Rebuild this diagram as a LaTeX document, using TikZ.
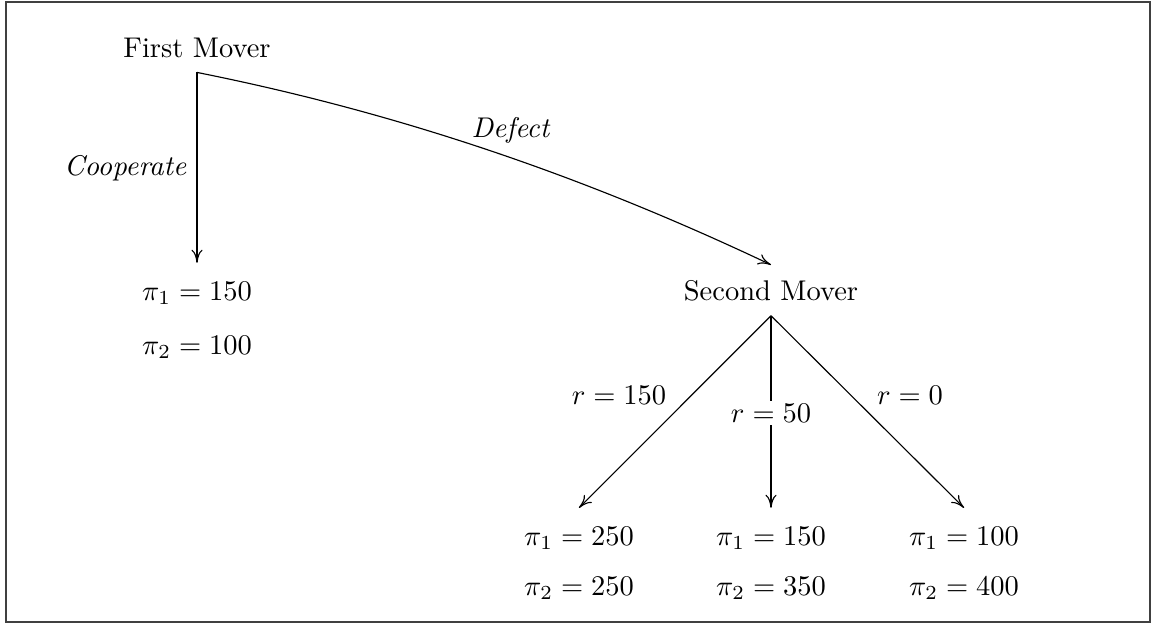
\documentclass[tikz,border=0pt]{standalone}
\usetikzlibrary{arrows.meta}
\begin{document}
\begin{tikzpicture}[x=0.3509pt,y=-0.3509pt,
  player/.style={inner xsep=0pt, inner ysep=5.1pt, anchor=base},
  payoff/.style={inner xsep=0pt, inner ysep=6.4pt, anchor=base},
  plain/.style={inner sep=0pt, anchor=base},
  move/.style={-{Computer Modern Rightarrow[length=4.6pt, width=3.9pt]}, line width=0.4pt}]
\useasboundingbox (0,0) rectangle (1152,624);
\draw[line width=0.45pt, black!75] (6,2) rectangle (1150,622);

\node[player] (fm) at (197,57) {First Mover};
\node[player] (sm) at (771,300) {Second Mover};

\node[payoff] (p0a) at (197,300) {$\pi_1 = 150$};
\node[payoff] (p0b) at (197,354) {$\pi_2 = 100$};

\node[payoff] (pla) at (579,545) {$\pi_1 = 250$};
\node[payoff] (plb) at (579,595) {$\pi_2 = 250$};
\node[payoff] (pma) at (771,545) {$\pi_1 = 150$};
\node[payoff] (pmb) at (771,595) {$\pi_2 = 350$};
\node[payoff] (pra) at (964,545) {$\pi_1 = 100$};
\node[payoff] (prb) at (964,595) {$\pi_2 = 400$};

\draw[move] (fm.south) -- (p0a.north);
\draw[move] (fm.south) .. controls +(200,40) and +(-190,-90) .. (sm.north);
\draw[move] (sm.south) -- (pla.north);
\draw[move] (sm.south) -- (pma.north);
\draw[move] (sm.south) -- (pra.north);

\node[plain, anchor=base east] (lc) at (187,175) {\textit{Cooperate}};
\node[plain] (ld) at (511,137) {\textit{Defect}};
\node[plain] (l1) at (619,404) {$r = 150$};
\node[anchor=base, fill=white, inner xsep=0pt, inner ysep=1pt] (l2) at (771,422) {$r = 50$};
\node[plain] (l3) at (910,404) {$r = 0$};
\end{tikzpicture}
\end{document}
